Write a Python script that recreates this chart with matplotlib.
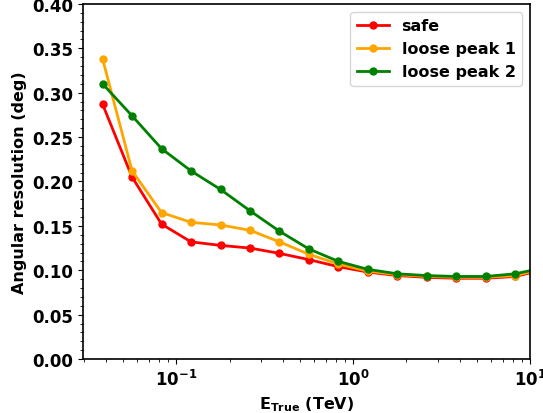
import numpy as np
import matplotlib
matplotlib.use('Agg')
from matplotlib import pyplot as plt
from matplotlib.ticker import MultipleLocator

# bin centres in true energy (TeV), 1/6 decade bins
energy = [0.0383, 0.0562, 0.0825, 0.121, 0.178, 0.261, 0.383, 0.562,
          0.825, 1.21, 1.78, 2.61, 3.83, 5.62, 8.25, 12.1]

res_safe = [0.287, 0.205, 0.152, 0.132, 0.128, 0.125, 0.119, 0.112,
            0.104, 0.098, 0.094, 0.092, 0.091, 0.091, 0.093, 0.101]
res_loose1 = [0.338, 0.212, 0.165, 0.154, 0.151, 0.145, 0.132, 0.118,
              0.107, 0.099, 0.095, 0.093, 0.092, 0.092, 0.094, 0.102]
res_loose2 = [0.310, 0.274, 0.237, 0.212, 0.191, 0.167, 0.144, 0.124,
              0.110, 0.101, 0.096, 0.094, 0.093, 0.093, 0.096, 0.103]

plt.rcParams['font.weight'] = 'bold'
plt.rcParams['axes.labelweight'] = 'bold'

fig = plt.figure(figsize=(5.43, 4.14), dpi=100)
ax = fig.add_axes([0.153, 0.1304, 0.823, 0.8576])

ax.plot(energy, res_safe, marker='o', ms=5, lw=2, color='red', label='safe')
ax.plot(energy, res_loose1, marker='o', ms=5, lw=2, color='orange', label='loose peak 1')
ax.plot(energy, res_loose2, marker='o', ms=5, lw=2, color='green', label='loose peak 2')

ax.set_xscale('log')
ax.set_xlim(0.0297, 10)
ax.set_ylim(0, 0.4)
ax.yaxis.set_major_locator(MultipleLocator(0.05))
ax.yaxis.set_minor_locator(MultipleLocator(0.01))
ax.tick_params(labelsize=12)

for spine in ax.spines.values():
    spine.set_linewidth(1.2)

ax.set_xlabel(r'$\mathbf{E_{True}}$ (TeV)', fontsize=11.5)
ax.set_ylabel('Angular resolution (deg)', fontsize=11.5)

ax.legend(loc='upper right', fontsize=11.5)

plt.savefig('out.png')
